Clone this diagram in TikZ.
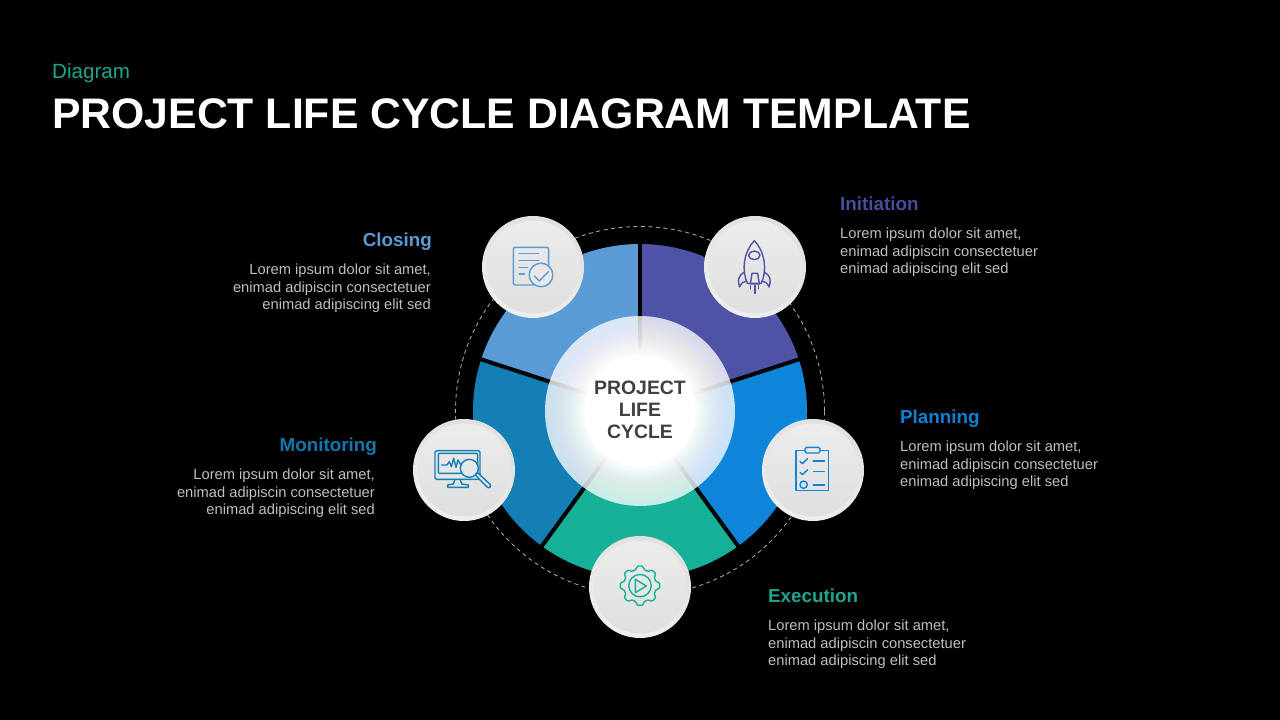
\documentclass[tikz,border=0pt]{standalone}
\usepackage{fontspec}
\setmainfont{Liberation Sans}
\definecolor{cInit}{HTML}{4F53A5}
\definecolor{cPlan}{HTML}{0F85D9}
\definecolor{cExec}{HTML}{15B097}
\definecolor{cMoni}{HTML}{137FB5}
\definecolor{cClos}{HTML}{5B9BD5}
\definecolor{tInit}{HTML}{474C9C}
\definecolor{tPlan}{HTML}{1080D4}
\definecolor{tExec}{HTML}{1FA58F}
\definecolor{tMoni}{HTML}{1277AE}
\definecolor{tClos}{HTML}{5B9BD5}
\definecolor{bodygrey}{HTML}{BFBFBF}
\definecolor{centretext}{HTML}{404040}
\definecolor{ringtop}{HTML}{D8D8D8}
\definecolor{ringbot}{HTML}{F6F6F6}
\definecolor{disctop}{HTML}{F3F3F3}
\definecolor{discbot}{HTML}{D8D8D8}
\definecolor{discmid}{HTML}{E8E8E8}
\pgfdeclareverticalshading{ringshade}{100bp}{color(0bp)=(ringbot); color(100bp)=(ringtop)}
\pgfdeclareverticalshading{discshade}{100bp}{color(0bp)=(discbot); color(100bp)=(disctop)}
\tikzset{
  heading/.style={inner sep=0pt,font=\fontsize{18.8}{22}\selectfont\bfseries},
  bodyL/.style={inner sep=0pt,anchor=north west,align=left,text=bodygrey,font=\fontsize{14.7}{17.5}\selectfont},
  bodyR/.style={inner sep=0pt,anchor=north east,align=right,text=bodygrey,font=\fontsize{14.7}{17.5}\selectfont},
  gapline/.style={black,line width=4pt},
  zoomed/.style 2 args={shift={(#1,720-#2)},x=0.33333pt,y=-0.33333pt,line join=round,line cap=round},
  ico/.style={line width=1.4pt},
  ringdisc/.style={circle,minimum size=102pt,inner sep=0pt,shade,shading=ringshade,shading angle=-25},
  innerdisc/.style={circle,minimum size=93pt,inner sep=0pt,shade,shading=discshade},
}
\begin{document}
\begin{tikzpicture}[x=1pt,y=1pt]
\useasboundingbox (0,0) rectangle (1280,720);
\fill[black] (0,0) rectangle (1280,720);
% title
\node[anchor=base west,inner sep=0pt,text=tExec,font=\fontsize{20.6}{24}\selectfont] (kicker) at (52,720-78.5) {Diagram};
\node[anchor=base west,inner sep=0pt,text=white,font=\fontsize{42.75}{50}\selectfont\bfseries] (title) at (52,720-129) {PROJECT LIFE CYCLE DIAGRAM TEMPLATE};
% dashed ring
\coordinate (c) at (640,309);
\draw[white!70!black,line width=0.8pt,dash pattern=on 4pt off 3.5pt] (c) circle[radius=184.5pt];
% sectors
\fill[cInit] (c) -- ++(90:167pt) arc[start angle=90,end angle=18,radius=167pt] -- cycle;
\fill[cPlan] (c) -- ++(18:167pt) arc[start angle=18,end angle=-54,radius=167pt] -- cycle;
\fill[cExec] (c) -- ++(-54:167pt) arc[start angle=-54,end angle=-126,radius=167pt] -- cycle;
\fill[cMoni] (c) -- ++(-126:167pt) arc[start angle=-126,end angle=-198,radius=167pt] -- cycle;
\fill[cClos] (c) -- ++(162:167pt) arc[start angle=162,end angle=90,radius=167pt] -- cycle;
\foreach \a in {90,18,-54,-126,162} \draw[gapline] (c) -- ++(\a:170pt);
% centre glow: stacked translucent white discs giving a linear ramp
\fill[white,opacity=0.77] (c) circle[radius=95pt];
\foreach \r in {94,93,...,55} {
  \pgfmathsetmacro\op{1/(\r-54)}
  \fill[white,opacity=\op] (c) circle[radius=\r pt];
}
\node[inner sep=0pt,align=center,text=centretext,font=\fontsize{19.4}{22}\selectfont\bfseries] (centre) at (640,720-409.5) {PROJECT\\LIFE\\CYCLE};
% badges
\foreach \n/\p in {bClos/{(533,453)},bInit/{(755,453)},bPlan/{(813,250)},bExec/{(640,133)},bMoni/{(464,250)}} {
  \node[ringdisc] (\n) at \p {};
  \node[innerdisc] (\n i) at \p {};
}
% closing icon
\begin{scope}[zoomed={480}{215},ico,draw=cClos]
  \draw[rounded corners=2pt] (100,97) rectangle (206,210);
  \draw (118,115)--(176,115) (118,137)--(176,137) (118,157)--(143,157) (118,177)--(133,177);
  \draw[fill=discmid] (183,180) circle[radius=11.8pt];
  \draw (163,183)--(178,198)--(205,170);
\end{scope}
% rocket icon
\begin{scope}[zoomed={702}{215},ico,draw=cInit]
  \draw (136,205) .. controls (118,165) and (125,110) .. (157,77) .. controls (189,110) and (196,165) .. (178,205) -- cycle;
  \draw (157,121) ellipse[x radius=5.7pt,y radius=4.3pt];
  \draw (150,175)--(167,175)--(172,207)--(145,207)--cycle;
  \draw (126,172) .. controls (110,180) and (105,198) .. (113,216) .. controls (117,205) and (125,198) .. (134,198);
  \draw (188,172) .. controls (204,180) and (209,198) .. (201,216) .. controls (197,205) and (189,198) .. (180,198);
  \draw (146,212)--(146,222) (170,212)--(170,222);
  \draw[line width=1.8pt] (158,212)--(158,235);
\end{scope}
% planning icon
\begin{scope}[zoomed={760}{418},ico,draw=cPlan]
  \draw (135,97)--(108,97)--(108,218)--(206,218)--(206,97)--(180,97);
  \draw[rounded corners=1.5pt] (135,88) rectangle (180,105);
  \draw (120,130)--(127,137)--(143,122) (120,163)--(127,170)--(143,155);
  \draw (131,200) circle[radius=3.7pt];
  \draw[line width=1.8pt] (160,128)--(193,128) (160,200)--(193,200);
  \draw[line width=1pt] (160,162)--(193,162);
\end{scope}
% execution icon
\begin{scope}[zoomed={587}{534},ico,draw=cExec]
  \draw plot[domain=0:360,samples=145,smooth] ({159+(54+5*max(min(1.6*cos(8*\x),1),-1))*cos(\x)},{155+(54+5*max(min(1.6*cos(8*\x),1),-1))*sin(\x)}) -- cycle;
  \draw (159,155) circle[radius=11.2pt];
  \draw (145,136)--(145,176)--(178,156)--cycle;
\end{scope}
% monitoring icon
\begin{scope}[zoomed={411}{418},ico,draw=cMoni]
  \draw[rounded corners=1.5pt] (72,98) rectangle (207,184);
  \draw[rounded corners=1pt] (82,106) rectangle (200,166);
  \draw (132,184)--(127,198)--(110,201)--(110,208)--(172,208)--(172,201)--(152,198)--(147,184);
  \draw (92,141)--(108,141)--(115,131)--(121,146)--(128,121)--(135,148)--(141,126)--(150,141);
  \draw[fill=discmid] (175,151) circle[radius=9pt];
  \draw[fill=discmid,rounded corners=2pt] (192,170)--(199,163)--(241,203)--(233,212)--cycle;
\end{scope}
% labels
\node[heading,anchor=base west,text=tInit] (hInit) at (840,720-211) {Initiation};
\node[bodyL] (tInit) at (840,720-228) {Lorem ipsum dolor sit amet,\\enimad adipiscin consectetuer\\enimad adipiscing elit sed};
\node[heading,anchor=base west,text=tPlan] (hPlan) at (900,720-424) {Planning};
\node[bodyL] (tPlan) at (900,720-441) {Lorem ipsum dolor sit amet,\\enimad adipiscin consectetuer\\enimad adipiscing elit sed};
\node[heading,anchor=base west,text=tExec] (hExec) at (768,720-603) {Execution};
\node[bodyL] (tExec) at (768,720-620) {Lorem ipsum dolor sit amet,\\enimad adipiscin consectetuer\\enimad adipiscing elit sed};
\node[heading,anchor=base east,text=tMoni] (hMoni) at (377,720-452) {Monitoring};
\node[bodyR] (tMoni) at (375,720-469) {Lorem ipsum dolor sit amet,\\enimad adipiscin consectetuer\\enimad adipiscing elit sed};
\node[heading,anchor=base east,text=tClos] (hClos) at (432,720-247) {Closing};
\node[bodyR] (tClos) at (431,720-264) {Lorem ipsum dolor sit amet,\\enimad adipiscin consectetuer\\enimad adipiscing elit sed};
\end{tikzpicture}
\end{document}
